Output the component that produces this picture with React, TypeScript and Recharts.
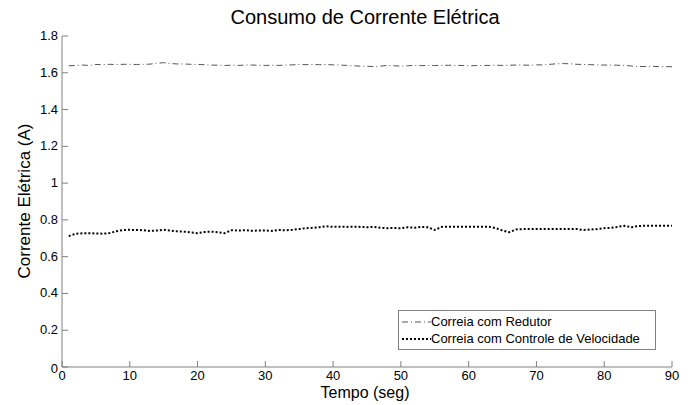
import React from "react";
import { LineChart, Line, XAxis, YAxis } from "recharts";

const timeSeconds = [
  1, 2, 3, 4, 5, 6, 7, 8, 9, 10, 11, 12, 13, 14, 15, 16, 17, 18, 19, 20,
  21, 22, 23, 24, 25, 26, 27, 28, 29, 30, 31, 32, 33, 34, 35, 36, 37, 38, 39, 40,
  41, 42, 43, 44, 45, 46, 47, 48, 49, 50, 51, 52, 53, 54, 55, 56, 57, 58, 59, 60,
  61, 62, 63, 64, 65, 66, 67, 68, 69, 70, 71, 72, 73, 74, 75, 76, 77, 78, 79, 80,
  81, 82, 83, 84, 85, 86, 87, 88, 89, 90,
];

const correiaRedutor = [
  1.638, 1.64, 1.642, 1.64, 1.645, 1.644, 1.646, 1.645, 1.646, 1.646,
  1.645, 1.646, 1.647, 1.652, 1.655, 1.65, 1.648, 1.648, 1.646, 1.645,
  1.644, 1.642, 1.641, 1.64, 1.641, 1.64, 1.642, 1.642, 1.641, 1.64,
  1.641, 1.64, 1.642, 1.643, 1.645, 1.644, 1.645, 1.644, 1.645, 1.643,
  1.642, 1.64, 1.638, 1.636, 1.635, 1.634, 1.636, 1.64, 1.638, 1.636,
  1.638, 1.64, 1.639, 1.64, 1.639, 1.64, 1.641, 1.64, 1.64, 1.638,
  1.639, 1.64, 1.64, 1.641, 1.64, 1.641, 1.642, 1.642, 1.641, 1.643,
  1.643, 1.646, 1.649, 1.65, 1.649, 1.646, 1.645, 1.644, 1.643, 1.642,
  1.642, 1.641, 1.64, 1.637, 1.634, 1.634, 1.635, 1.634, 1.633, 1.633,
];

const correiaControle = [
  0.712, 0.725, 0.727, 0.728, 0.726, 0.725, 0.728, 0.738, 0.745, 0.746,
  0.745, 0.744, 0.74, 0.742, 0.746, 0.742, 0.738, 0.736, 0.732, 0.728,
  0.734, 0.736, 0.733, 0.728, 0.744, 0.742, 0.744, 0.741, 0.742, 0.743,
  0.74, 0.745, 0.743, 0.746, 0.75, 0.755, 0.757, 0.76, 0.765, 0.762,
  0.763, 0.762, 0.763, 0.762, 0.76, 0.762, 0.757, 0.755, 0.756, 0.754,
  0.76, 0.757, 0.762, 0.76, 0.745, 0.762, 0.763, 0.763, 0.763, 0.763,
  0.763, 0.763, 0.763, 0.755, 0.742, 0.733, 0.748, 0.75, 0.75, 0.75,
  0.75, 0.75, 0.75, 0.75, 0.75, 0.75, 0.745, 0.748, 0.75, 0.755,
  0.757, 0.762, 0.768, 0.76, 0.767, 0.768, 0.768, 0.768, 0.768, 0.768,
];

const xTicks = [0, 10, 20, 30, 40, 50, 60, 70, 80, 90];
const yTicks = [0, 0.2, 0.4, 0.6, 0.8, 1, 1.2, 1.4, 1.6, 1.8];

const seriesNames = ["Correia com Redutor", "Correia com Controle de Velocidade"];

const chartData = timeSeconds.map((t, i) => ({
  t,
  redutor: correiaRedutor[i],
  controle: correiaControle[i],
}));

const FONT = "'Liberation Sans', Arial, sans-serif";
const AXIS_COLOR = "#808080";

const XTick = (props: any) => {
  const { x, y, payload } = props;
  return (
    <g>
      <line x1={x} x2={x} y1={y} y2={y - 6} stroke={AXIS_COLOR} />
      <text x={x} y={y + 13} textAnchor="middle" fontSize={13} fill="#000" fontFamily={FONT}>
        {String(payload.value)}
      </text>
    </g>
  );
};

const YTick = (props: any) => {
  const { x, y, payload } = props;
  const isZero = payload.value === 0;
  return (
    <g>
      <line x1={x} x2={x + 6} y1={y} y2={y} stroke={AXIS_COLOR} />
      <text
        x={x - 4}
        y={y + (isZero ? 6 : 4)}
        textAnchor="end"
        fontSize={13}
        fill="#000"
        fontFamily={FONT}
      >
        {String(payload.value)}
      </text>
    </g>
  );
};

const LegendBox = () => (
  <div
    style={{
      position: "absolute",
      left: 398,
      top: 310,
      border: "1px solid #808080",
      background: "#fff",
      width: 258,
      height: 40,
      boxSizing: "border-box",
      fontFamily: FONT,
      fontSize: 13,
      color: "#000",
      padding: "2px 0 0 2px",
    }}
  >
    <div style={{ display: "flex", alignItems: "center", height: 17 }}>
      <svg width={30} height={10}>
        <line x1={1} x2={30} y1={5} y2={5} stroke="#555" strokeWidth={1} strokeDasharray="6 3 1 3" />
      </svg>
      <span>{seriesNames[0]}</span>
    </div>
    <div style={{ display: "flex", alignItems: "center", height: 17 }}>
      <svg width={30} height={10}>
        <line x1={1} x2={30} y1={5} y2={5} stroke="#000" strokeWidth={2} strokeDasharray="2 2" />
      </svg>
      <span>{seriesNames[1]}</span>
    </div>
  </div>
);

export default function App() {
  return (
    <div style={{ position: "absolute", left: 0, top: 0, width: 693, height: 405, background: "#fff" }}>
      <LineChart
        width={693}
        height={405}
        data={chartData}
        margin={{ top: 36, right: 21, bottom: 0, left: 0 }}
      >
        <text x={365} y={24} textAnchor="middle" fontSize={20} fontFamily={FONT} fill="#000">
          Consumo de Corrente Elétrica
        </text>
        <text x={365} y={398} textAnchor="middle" fontSize={16} fontFamily={FONT} fill="#000">
          Tempo (seg)
        </text>
        <text
          x={0}
          y={0}
          transform="translate(30, 201) rotate(-90)"
          textAnchor="middle"
          fontSize={17}
          fontFamily={FONT}
          fill="#000"
        >
          Corrente Elétrica (A)
        </text>
        <XAxis
          dataKey="t"
          type="number"
          domain={[0, 90]}
          ticks={xTicks}
          height={38}
          tickLine={false}
          tickSize={0}
          tickMargin={0}
          stroke={AXIS_COLOR}
          tick={<XTick />}
          interval={0}
        />
        <YAxis
          type="number"
          domain={[0, 1.8]}
          ticks={yTicks}
          width={62}
          tickLine={false}
          tickSize={0}
          tickMargin={0}
          stroke={AXIS_COLOR}
          tick={<YTick />}
          interval={0}
        />
        <Line
          type="linear"
          dataKey="redutor"
          name={seriesNames[0]}
          stroke="#555"
          strokeWidth={1}
          strokeDasharray="6 3 1 3"
          dot={false}
          isAnimationActive={false}
        />
        <Line
          type="linear"
          dataKey="controle"
          name={seriesNames[1]}
          stroke="#000"
          strokeWidth={2}
          strokeDasharray="2 2"
          dot={false}
          isAnimationActive={false}
        />
      </LineChart>
      <LegendBox />
    </div>
  );
}
